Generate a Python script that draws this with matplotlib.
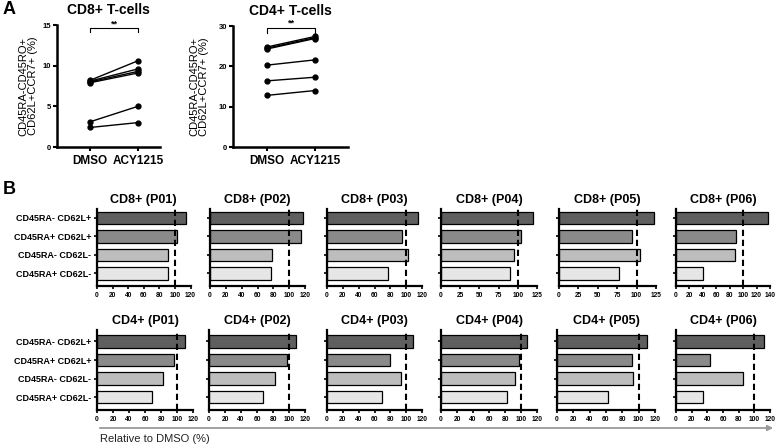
import numpy as np
import matplotlib
matplotlib.use("Agg")
import matplotlib.pyplot as plt

plt.rcParams['font.family'] = ['Liberation Sans', 'DejaVu Sans']
plt.rcParams['font.weight'] = 'bold'

# panel A: % naive-like cells per patient, DMSO vs ACY1215
groups = ["DMSO", "ACY1215"]
cd8_dmso = [8.2, 8.1, 8.0, 7.9, 3.1, 2.4]
cd8_acy = [10.6, 9.6, 9.3, 9.1, 5.0, 3.0]
cd4_dmso = [24.8, 24.5, 24.3, 20.3, 16.4, 12.8]
cd4_acy = [27.4, 27.1, 26.9, 21.6, 17.3, 14.0]

# panel B: subsets relative to DMSO (%)
subsets = ["CD45RA- CD62L+", "CD45RA+ CD62L+", "CD45RA- CD62L-", "CD45RA+ CD62L-"]
patients = ["P01", "P02", "P03", "P04", "P05", "P06"]
cd8_p01 = [114, 103, 91, 91.5]
cd8_p02 = [117, 115, 78, 77]
cd8_p03 = [115, 95, 102, 77]
cd8_p04 = [120, 104, 95, 90]
cd8_p05 = [122, 94, 104, 77]
cd8_p06 = [137, 90, 88, 40]
cd4_p01 = [110, 96, 82, 69]
cd4_p02 = [109, 97, 83, 67]
cd4_p03 = [108, 80, 94, 70]
cd4_p04 = [107, 97, 92, 82]
cd4_p05 = [110, 92, 93, 62]
cd4_p06 = [112, 43, 85, 34]
cd8_rel = [cd8_p01, cd8_p02, cd8_p03, cd8_p04, cd8_p05, cd8_p06]
cd4_rel = [cd4_p01, cd4_p02, cd4_p03, cd4_p04, cd4_p05, cd4_p06]

W, H = 778, 447
fig = plt.figure(figsize=(W / 100, H / 100), dpi=100)


def px_axes(l, t, r, b):
    return fig.add_axes([l / W, 1 - b / H, (r - l) / W, (b - t) / H])


def style(ax, lw=1.6):
    for s in ['top', 'right']:
        ax.spines[s].set_visible(False)
    for s in ['left', 'bottom']:
        ax.spines[s].set_linewidth(lw)


def pair_plot(ax, dmso, acy, ymax, step, xl, title, bracket, lab_x):
    for d, a in zip(dmso, acy):
        ax.plot([0, 1], [d, a], color='black', lw=1, marker='o', ms=3.5)
    ax.set_xlim(*xl)
    ax.set_ylim(0, ymax)
    ax.set_yticks(np.arange(0, ymax + 1, step))
    ax.set_xticks([0, 1])
    ax.set_xticklabels(groups, fontsize=8.5, fontweight='bold')
    style(ax, 1.8)
    ax.tick_params(axis='y', length=3, width=1.5, labelsize=5.5, pad=1)
    ax.tick_params(axis='x', length=3, width=1.5, pad=3)
    ax.set_title(title, fontsize=10, fontweight='bold', pad=8)
    ax.set_ylabel("CD45RA-CD45RO+\nCD62L+CCR7+ (%)", fontsize=8, linespacing=0.95)
    ax.yaxis.set_label_coords(lab_x, 0.5)
    yb, h = bracket
    ax.plot([0, 0, 1, 1], [yb - h, yb, yb, yb - h], color='black', lw=0.8, clip_on=False)
    ax.text(0.5, yb, '**', ha='center', va='bottom', fontsize=6.5)


ax = px_axes(57, 25, 160, 147)
pair_plot(ax, cd8_dmso, cd8_acy, 15, 5, (-0.69, 1.46), "CD8+ T-cells", (14.6, 0.5), (38 - 57) / 103)
ax = px_axes(233, 26, 348, 147)
pair_plot(ax, cd4_dmso, cd4_acy, 30, 10, (-0.71, 1.69), "CD4+ T-cells", (29.5, 1.2), (209 - 233) / 115)

fig.text(3 / W, 1 - 10 / H, "A", fontsize=13, fontweight='bold', va='center')
fig.text(3 / W, 1 - 189 / H, "B", fontsize=13, fontweight='bold', va='center')

bar_colors = ['#5f5f5f', '#8a8a8a', '#bdbdbd', '#e6e6e6']


def bar_panel(ax, vals, xmax, step, title, show_labels, ylim):
    ypos = [3, 2, 1, 0]
    ax.barh(ypos, vals, height=0.68, color=bar_colors, edgecolor='black', lw=0.9)
    ax.axvline(100, color='black', lw=1.5, ls=(0, (3, 1.8)))
    ax.set_xlim(0, xmax)
    ax.set_xticks(np.arange(0, xmax + 1, step))
    ax.set_ylim(*ylim)
    ax.set_yticks(ypos)
    if show_labels:
        ax.set_yticklabels(subsets, fontsize=6.5, fontweight='bold')
    else:
        ax.set_yticklabels([])
    style(ax, 1.6)
    ax.tick_params(axis='x', length=2.5, width=1.2, labelsize=4.8, pad=1.5)
    ax.tick_params(axis='y', length=2, width=1.2, pad=2)
    ax.set_title(title, fontsize=9, fontweight='bold', pad=4)


cd8_cols = [(97, 190.6), (210, 305), (327, 422), (441, 537), (559, 656), (676, 770)]
cd4_cols = [(97, 193), (209, 305), (327, 422), (441, 537), (557, 655), (676, 770)]
cd8_xmax = [120, 120, 120, 125, 125, 140]
cd8_step = [20, 20, 20, 25, 25, 20]

for i, p in enumerate(patients):
    l, r = cd8_cols[i]
    ax = px_axes(l, 209, r, 286)
    bar_panel(ax, cd8_rel[i], cd8_xmax[i], cd8_step[i], "CD8+ (%s)" % p, i == 0, (-0.68, 3.48))
    l, r = cd4_cols[i]
    ax = px_axes(l, 330, r, 410)
    bar_panel(ax, cd4_rel[i], 120, 20, "CD4+ (%s)" % p, i == 0, (-0.7, 3.62))

fig.patches.append(matplotlib.patches.FancyArrowPatch(
    (97 / W, 1 - 428 / H), (776 / W, 1 - 428 / H), transform=fig.transFigure,
    arrowstyle='-|>', mutation_scale=8, color='#9a9a9a', lw=1.3))
fig.text(100 / W, 1 - 439 / H, "Relative to DMSO (%)", fontsize=8, fontweight='normal',
         color='#222222', va='center')

fig.savefig("out.png", dpi=100)
